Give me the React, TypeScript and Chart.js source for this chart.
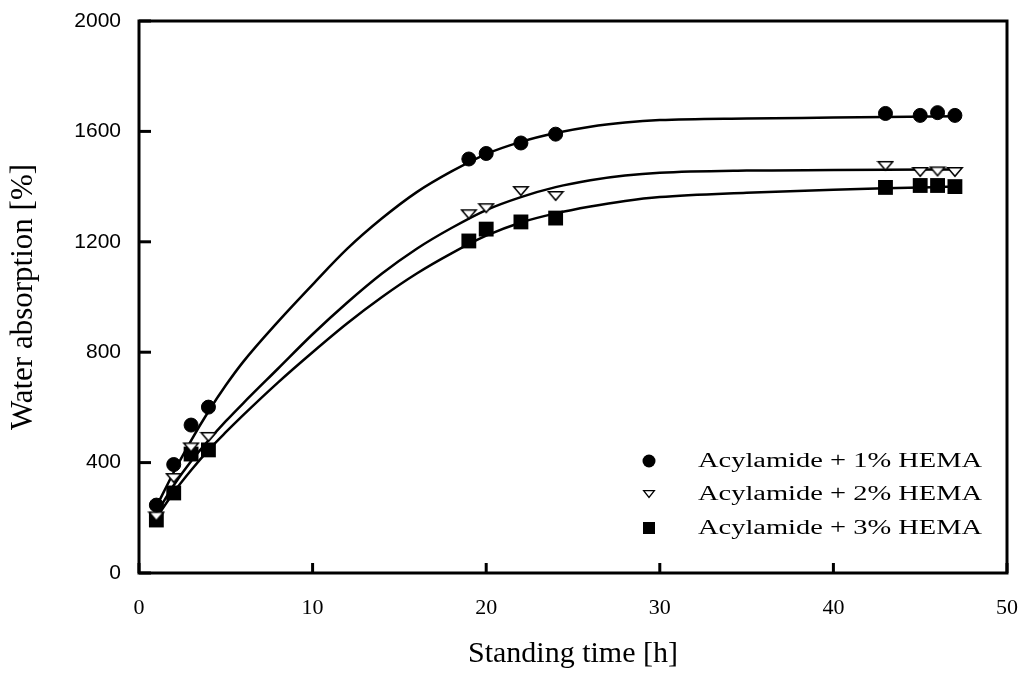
import React, { useEffect, useRef } from "react";
import { Chart, registerables } from "chart.js";

Chart.register(...registerables);

// Measured points (standing time in h)
const measuredTimes = [1, 2, 3, 4, 19, 20, 22, 24, 43, 45, 46, 47];
const hema1Values = [246, 393, 536, 601, 1500, 1520, 1558, 1590, 1665, 1658, 1668, 1658];
const hema2Values = [205, 344, 455, 493, 1300, 1322, 1384, 1366, 1475, 1453, 1455, 1453];
const hema3Values = [192, 290, 431, 446, 1203, 1246, 1272, 1286, 1397, 1404, 1404, 1400];

// Fitted curves
const fitTimes = [1, 2, 3, 4, 5, 6, 8, 10, 12, 14, 16, 18, 20, 22, 24, 26, 28, 30, 35, 40, 43, 47];
const fit1Values = [240, 365, 480, 585, 680, 765, 910, 1045, 1175, 1285, 1380, 1455, 1518, 1562, 1594, 1617, 1632, 1641, 1647, 1650, 1652, 1655];
const fit2Values = [215, 318, 405, 480, 550, 615, 740, 865, 980, 1085, 1175, 1250, 1315, 1362, 1398, 1423, 1440, 1450, 1458, 1460, 1461, 1462];
const fit3Values = [200, 292, 372, 445, 510, 572, 690, 800, 905, 1000, 1085, 1158, 1222, 1270, 1303, 1328, 1348, 1362, 1378, 1389, 1394, 1400];

const seriesLabels = ["Acylamide + 1% HEMA", "Acylamide + 2% HEMA", "Acylamide + 3% HEMA"];
const xTickValues = [0, 10, 20, 30, 40, 50];
const yTickValues = [0, 400, 800, 1200, 1600, 2000];

function makeTriangle(w: number, h: number, lw: number): HTMLCanvasElement {
  const c = document.createElement("canvas");
  c.width = w + 2;
  c.height = h + 2;
  const ctx = c.getContext("2d")!;
  ctx.beginPath();
  ctx.moveTo(1 + lw / 2, 1 + lw / 2);
  ctx.lineTo(w + 1 - lw / 2, 1 + lw / 2);
  ctx.lineTo((w + 2) / 2, h + 1 - lw / 2);
  ctx.closePath();
  ctx.fillStyle = "#fff";
  ctx.fill();
  ctx.lineWidth = lw;
  ctx.strokeStyle = "#000";
  ctx.stroke();
  return c;
}

const pts = (xs: number[], ys: number[]) => xs.map((x, i) => ({ x, y: ys[i] }));

export default function App() {
  const ref = useRef<HTMLCanvasElement | null>(null);

  useEffect(() => {
    if (!ref.current) return;
    const tri = makeTriangle(16, 10, 1.5);
    const triLegend = makeTriangle(12, 8, 1.3);

    const framePlugin = {
      id: "frameTicks",
      afterDatasetsDraw(chart: any) {
        const { ctx, chartArea } = chart;
        const xs = chart.scales.x;
        const ys = chart.scales.y;
        ctx.save();
        ctx.strokeStyle = "#000";
        ctx.lineWidth = 3;
        ctx.strokeRect(chartArea.left, chartArea.top, chartArea.right - chartArea.left, chartArea.bottom - chartArea.top);
        for (const v of yTickValues) {
          const py = ys.getPixelForValue(v);
          ctx.beginPath();
          ctx.moveTo(chartArea.left, py);
          ctx.lineTo(chartArea.left + 12, py);
          ctx.stroke();
        }
        for (const v of xTickValues) {
          const px = xs.getPixelForValue(v);
          ctx.beginPath();
          ctx.moveTo(px, chartArea.bottom);
          ctx.lineTo(px, chartArea.bottom - 10);
          ctx.stroke();
        }
        ctx.restore();
      },
      afterDraw(chart: any) {
        const { ctx } = chart;
        const rows = [461, 494, 528];
        const mx = 649;
        ctx.save();
        ctx.fillStyle = "#000";
        ctx.beginPath();
        ctx.arc(mx, rows[0], 6.5, 0, Math.PI * 2);
        ctx.fill();
        ctx.drawImage(triLegend, mx - triLegend.width / 2, rows[1] - triLegend.height / 2);
        ctx.fillRect(mx - 6, rows[2] - 6, 12, 12);
        ctx.font = "20px 'Liberation Serif'";
        ctx.textBaseline = "middle";
        ctx.textAlign = "left";
        seriesLabels.forEach((t, i) => {
          ctx.save();
          ctx.translate(698, rows[i] + 1);
          const w = ctx.measureText(t).width;
          ctx.scale(284 / w, 1);
          ctx.fillText(t, 0, 0);
          ctx.restore();
        });
        ctx.restore();
      },
    };

    const lineDs = (label: string, ys: number[]) =>
      ({
        label,
        data: pts(fitTimes, ys),
        showLine: true,
        pointRadius: 0,
        borderColor: "#000",
        borderWidth: 2.5,
        cubicInterpolationMode: "monotone",
        order: 1,
      } as any);

    const chart = new Chart(ref.current, {
      type: "scatter",
      data: {
        datasets: [
          {
            label: seriesLabels[0],
            data: pts(measuredTimes, hema1Values),
            pointStyle: "circle",
            pointRadius: 7,
            pointBackgroundColor: "#000",
            pointBorderColor: "#000",
            pointBorderWidth: 1,
            showLine: false,
            order: 0,
          },
          {
            label: seriesLabels[1],
            data: pts(measuredTimes, hema2Values),
            pointStyle: tri as any,
            pointRadius: 8,
            showLine: false,
            order: 0,
          },
          {
            label: seriesLabels[2],
            data: pts(measuredTimes, hema3Values),
            pointStyle: "rect",
            pointRadius: 10.5,
            pointBackgroundColor: "#000",
            pointBorderColor: "#000",
            pointBorderWidth: 0,
            showLine: false,
            order: 0,
          },
          lineDs("fit1", fit1Values),
          lineDs("fit2", fit2Values),
          lineDs("fit3", fit3Values),
        ],
      },
      options: {
        animation: false,
        responsive: false,
        devicePixelRatio: 1,
        layout: { padding: { left: 0, top: 21, right: 17, bottom: 0 } },
        plugins: { legend: { display: false }, tooltip: { enabled: false } },
        scales: {
          x: {
            type: "linear",
            min: 0,
            max: 50,
            afterBuildTicks: (s: any) => {
              s.ticks = xTickValues.map((v) => ({ value: v }));
            },
            afterFit: (s: any) => {
              s.height = 100;
              s.paddingLeft = 0;
              s.paddingRight = 0;
            },
            grid: { display: false, drawTicks: false },
            border: { display: false },
            ticks: {
              color: "#000",
              padding: 22,
              font: { family: "'Liberation Serif'", size: 22 },
              maxRotation: 0,
              callback: (v: any) => String(v),
            },
            title: {
              display: true,
              text: "Standing time [h]",
              color: "#000",
              font: { family: "'Liberation Serif'", size: 30, lineHeight: 1 },
              padding: { top: 0, bottom: 4 },
            },
          },
          y: {
            type: "linear",
            min: 0,
            max: 2000,
            afterBuildTicks: (s: any) => {
              s.ticks = yTickValues.map((v) => ({ value: v }));
            },
            afterFit: (s: any) => {
              s.width = 139;
              s.paddingTop = 0;
              s.paddingBottom = 0;
            },
            grid: { display: false, drawTicks: false },
            border: { display: false },
            ticks: {
              color: "#000",
              padding: 18,
              font: { family: "'Liberation Sans'", size: 21 },
              callback: (v: any) => String(v),
            },
            title: {
              display: true,
              text: "Water absorption [%]",
              color: "#000",
              font: { family: "'Liberation Serif'", size: 31, lineHeight: 1 },
              padding: { top: 8, bottom: 0 },
            },
          },
        },
      },
      plugins: [framePlugin],
    } as any);

    return () => chart.destroy();
  }, []);

  return (
    <div style={{ position: "absolute", left: 0, top: 0, width: 1024, height: 673, background: "#fff" }}>
      <canvas ref={ref} width={1024} height={673} />
    </div>
  );
}
